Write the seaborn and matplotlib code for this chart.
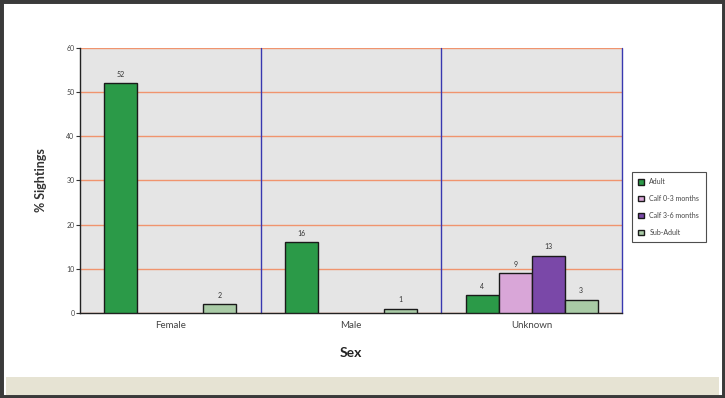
import numpy as np
import pandas as pd
import matplotlib
matplotlib.use("Agg")
import matplotlib.pyplot as plt
import seaborn as sns
from matplotlib.patches import Rectangle

sexes = ["Female", "Male", "Unknown"]
ages = ["Adult", "Calf 0-3 months", "Calf 3-6 months", "Sub-Adult"]
adult = [52, 16, 4]
calf_0_3 = [np.nan, np.nan, 9]
calf_3_6 = [np.nan, np.nan, 13]
sub_adult = [2, 1, 3]
colors = ["#2b9a48", "#d9a6d8", "#7a48a8", "#a9cba6"]

rows = []
for vals, age in zip([adult, calf_0_3, calf_3_6, sub_adult], ages):
    for s, v in zip(sexes, vals):
        rows.append({"Sex": s, "Age": age, "pct": v})
df = pd.DataFrame(rows)

sns.set_style("white")
plt.rcParams["font.family"] = ["Lato", "DejaVu Sans"]

fig = plt.figure(figsize=(7.25, 3.98), dpi=100)
# outer frame and bottom strip
fig.patches.append(Rectangle((0, 0), 1, 1, transform=fig.transFigure,
                             facecolor="white", edgecolor="#3a3a3a", linewidth=5, zorder=-10))
fig.patches.append(Rectangle((0.008, 0.008), 0.984, 0.045, transform=fig.transFigure,
                             facecolor="#e6e3d3", edgecolor="none", zorder=-9))

ax = fig.add_axes([0.1103, 0.2136, 0.7477, 0.6658])
ax.set_facecolor("#e5e5e5")

sns.barplot(data=df, x="Sex", y="pct", hue="Age", order=sexes, hue_order=ages,
            palette=colors, saturation=1, width=0.73, edgecolor="#1a1a1a", linewidth=1.0,
            errorbar=None, ax=ax, zorder=3)

for cont in ax.containers:
    labels = ["" if (np.isnan(v) if isinstance(v, float) else False) else f"{v:.0f}"
              for v in cont.datavalues]
    ax.bar_label(cont, labels=labels, padding=4, fontsize=5, color="#333333")

ax.set_ylim(0, 60)
ax.set_xlim(-0.5, 2.5)
ax.set_yticks(range(0, 61, 10))
ax.yaxis.grid(True, color="#f0946e", linewidth=1.0, zorder=0)
ax.set_axisbelow(True)
for xv in [0.5, 1.5, 2.5]:
    ax.axvline(xv, color="#3838b0", linewidth=1.0, zorder=1, clip_on=False)

ax.tick_params(axis="y", labelsize=5, length=3, width=0.8, color="#333333",
               labelcolor="#444444", left=True, pad=1)
ax.tick_params(axis="x", labelsize=7, length=0, labelcolor="#444444", pad=6)
for s in ["top", "right"]:
    ax.spines[s].set_visible(False)
ax.spines["left"].set_color("#222222")
ax.spines["bottom"].set_color("#222222")
ax.spines["left"].set_linewidth(1.0)
ax.spines["bottom"].set_linewidth(1.0)

ax.set_ylabel("% Sightings", fontsize=9, fontweight="bold", color="#333333", labelpad=14)
ax.set_xlabel("Sex", fontsize=10, fontweight="bold", color="#222222", labelpad=12)

leg = ax.legend(loc="center left", bbox_to_anchor=(1.012, 0.40), fontsize=5,
                frameon=True, fancybox=False, edgecolor="#222222",
                handlelength=0.8, handleheight=0.8, handletextpad=0.8,
                labelspacing=1.4, borderpad=0.9)
leg.get_frame().set_linewidth(0.8)
for t in leg.get_texts():
    t.set_color("#444444")

fig.savefig("out.png", dpi=100)
